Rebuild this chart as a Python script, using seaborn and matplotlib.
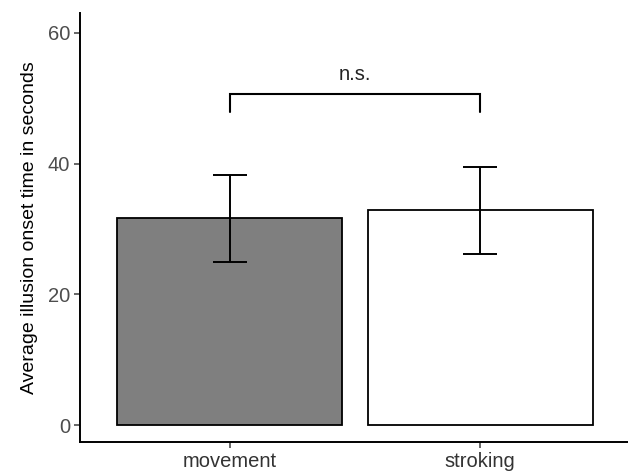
import matplotlib
matplotlib.use("Agg")
import matplotlib.pyplot as plt
import seaborn as sns
import pandas as pd

conditions = ["movement", "stroking"]
means = [31.7, 32.9]
err_low = [24.9, 26.2]
err_high = [38.3, 39.5]
fills = ["#7f7f7f", "#ffffff"]
yticks = [0, 20, 40, 60]
ylabel = "Average illusion onset time in seconds"
sig_label = "n.s."
bracket_y = 50.7
bracket_tip = 47.9

sns.set_theme(style="ticks")
plt.rcParams['font.family'] = ['Liberation Sans', 'DejaVu Sans']

df = pd.DataFrame({"condition": conditions, "mean": means})

fig = plt.figure(figsize=(6.28, 4.74), dpi=100)
ax = fig.add_axes([80/628, 32/474, 1 - 80/628, (442-13)/474])

sns.barplot(data=df, x="condition", y="mean", hue="condition",
            palette=dict(zip(conditions, fills)), order=conditions,
            width=0.9, edgecolor="black", linewidth=1.3, errorbar=None,
            legend=False, ax=ax)

xs = list(range(len(conditions)))
lo = [m - l for m, l in zip(means, err_low)]
hi = [h - m for m, h in zip(means, err_high)]
ax.errorbar(xs, means, yerr=[lo, hi], fmt="none", ecolor="black",
            elinewidth=1.4, capsize=12.5, capthick=1.4, zorder=5)

ax.plot([xs[0], xs[0], xs[1], xs[1]],
        [bracket_tip, bracket_y, bracket_y, bracket_tip],
        color="black", linewidth=1.5, solid_joinstyle="miter")
ax.text((xs[0] + xs[1]) / 2, bracket_y + 1.5, sig_label, ha="center",
        va="bottom", fontsize=14.5, color="#222222")

ax.set_xlim(-0.6, 1.592)
ax.set_ylim(-2.6, 63.05)
ax.set_yticks(yticks)
ax.set_xlabel("")
ax.set_ylabel(ylabel, fontsize=14, color="black", labelpad=7)
ax.tick_params(axis="both", labelsize=14.5, colors="#4d4d4d", length=4,
               width=1.2, pad=3)
ax.tick_params(axis="x", labelcolor="#333333")
for s in ["top", "right"]:
    ax.spines[s].set_visible(False)
for s in ["left", "bottom"]:
    ax.spines[s].set_linewidth(1.4)
    ax.spines[s].set_color("black")

fig.savefig("out.png", dpi=100)
